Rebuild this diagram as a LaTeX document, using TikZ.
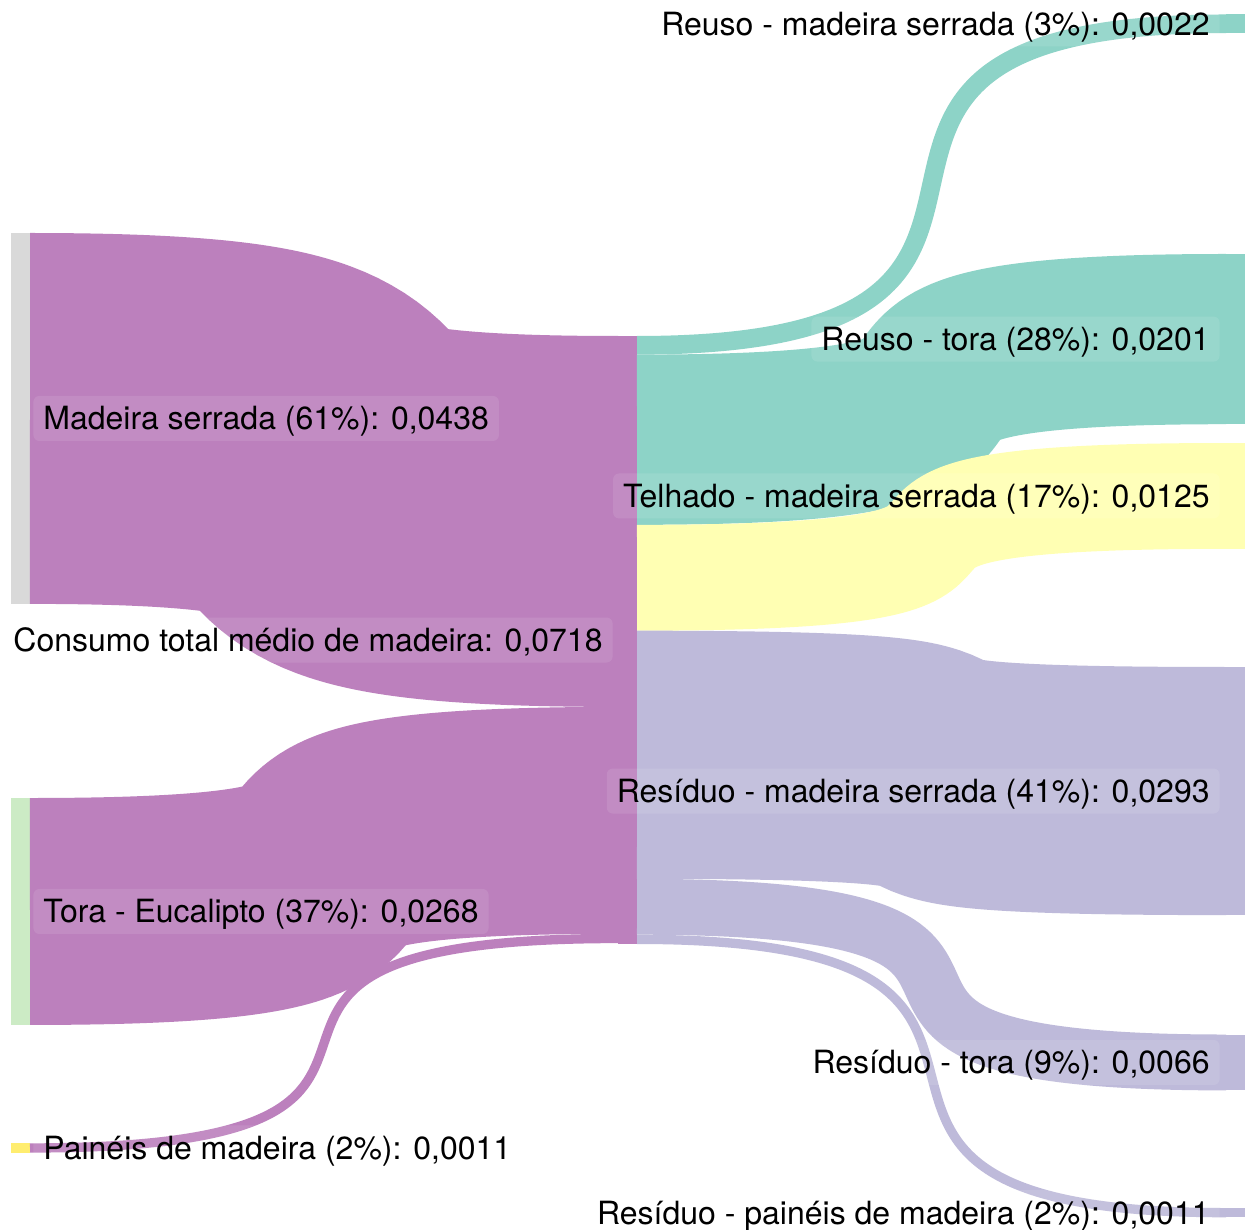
\documentclass[tikz,border=0pt]{standalone}
\usepackage{fontspec}
\setmainfont{TeX Gyre Heros}
% ColorBrewer Set3 colours
\definecolor{cgrey}{HTML}{D9D9D9}
\definecolor{cgreen}{HTML}{CCEBC5}
\definecolor{cgold}{HTML}{FFED6F}
\definecolor{cpurple}{HTML}{BC80BD}
\definecolor{cteal}{HTML}{8DD3C7}
\definecolor{cyellow}{HTML}{FFFFB3}
\definecolor{clav}{HTML}{BEBADA}
\begin{document}
\begin{tikzpicture}[x=0.5pt,y=-0.5pt,
  bar/.style={rectangle, draw=none, inner sep=0pt, outer sep=0pt, minimum width=9.5pt, anchor=north west},
  flowband/.style 2 args={draw=#1, line width=#2*0.5pt},
  lbl/.style={fill=white, fill opacity=0.1, text opacity=1, rounded corners=3pt,
    inner xsep=5pt, inner ysep=4pt, text height=13pt, text depth=1.5pt,
    font=\fontsize{16}{19}\selectfont}]
\useasboundingbox (0,0) rectangle (1245,1229);
\fill[white] (0,0) rectangle (1245,1229);

% control-point reach of every flow band (px)
\def\reachL{517}
\def\reachR{518}

% --- nodes (bars) ---
\node[bar, fill=cgrey,   minimum height=185.45pt] (ms)   at (11,233) {};
\node[bar, fill=cgreen,  minimum height=113.47pt] (te)   at (11,798) {};
\node[bar, fill=cgold,   minimum height=4.655pt]  (pm)   at (11,1143.3) {};
\node[bar, fill=cpurple, minimum height=304pt]    (tot)  at (618,336) {};
\node[bar, fill=cteal,   minimum height=9.315pt]  (rms)  at (1226,14.5) {};
\node[bar, fill=cteal,   minimum height=85.105pt] (rt)   at (1226,254) {};
\node[bar, fill=cyellow, minimum height=52.925pt] (tel)  at (1226,443) {};
\node[bar, fill=clav,    minimum height=124.055pt](rsms) at (1226,667) {};
\node[bar, fill=clav,    minimum height=27.945pt] (rst)  at (1226,1034.5) {};
\node[bar, fill=clav,    minimum height=4.655pt]  (rsp)  at (1226,1208) {};

% --- link end points ---
\coordinate (ms-o)  at (30,418.45);
\coordinate (te-o)  at (30,911.47);
\coordinate (pm-o)  at (30,1147.95);
\coordinate (tot-ims) at (618,521.45);
\coordinate (tot-ite) at (618,820.37);
\coordinate (tot-ipm) at (618,938.5);
\coordinate (tot-o1) at (637,345.31);
\coordinate (tot-o2) at (637,439.73);
\coordinate (tot-o3) at (637,577.76);
\coordinate (tot-o4) at (637,754.74);
\coordinate (tot-o5) at (637,906.74);
\coordinate (tot-o6) at (637,939.34);
\coordinate (rms-i)  at (1226,23.8);
\coordinate (rt-i)   at (1226,339.1);
\coordinate (tel-i)  at (1226,495.93);
\coordinate (rsms-i) at (1226,791.05);
\coordinate (rst-i)  at (1226,1062.45);
\coordinate (rsp-i)  at (1226,1212.65);

% --- links into the total ---
\draw[flowband={cpurple}{370.9}] (ms-o) .. controls +(\reachL,0) and +(-\reachL,0) .. (tot-ims);
\draw[flowband={cpurple}{226.94}] (te-o) .. controls +(\reachL,0) and +(-\reachL,0) .. (tot-ite);
\draw[flowband={cpurple}{9.31}] (pm-o) .. controls +(\reachL,0) and +(-\reachL,0) .. (tot-ipm);

% --- links out of the total ---
\draw[flowband={cteal}{18.63}]   (tot-o1) .. controls +(\reachR,0) and +(-\reachR,0) .. (rms-i);
\draw[flowband={cteal}{170.21}]  (tot-o2) .. controls +(\reachR,0) and +(-\reachR,0) .. (rt-i);
\draw[flowband={cyellow}{105.85}](tot-o3) .. controls +(\reachR,0) and +(-\reachR,0) .. (tel-i);
\draw[flowband={clav}{248.11}]   (tot-o4) .. controls +(\reachR,0) and +(-\reachR,0) .. (rsms-i);
\draw[flowband={clav}{55.89}]    (tot-o5) .. controls +(\reachR,0) and +(-\reachR,0) .. (rst-i);
\draw[flowband={clav}{9.31}]     (tot-o6) .. controls +(\reachR,0) and +(-\reachR,0) .. (rsp-i);

% --- labels ---
\node[lbl, anchor=west] (l-ms) at (33,418.45) {Madeira serrada (61\%): 0,0438};
\node[lbl, anchor=west] (l-te) at (33,911.47) {Tora - Eucalipto (37\%): 0,0268};
\node[lbl, anchor=west] (l-pm) at (33,1147.95) {Painéis de madeira (2\%): 0,0011};
\node[lbl, anchor=east] (l-tot) at (613,640) {Consumo total médio de madeira: 0,0718};
\node[lbl, anchor=east] (l-rms) at (1220,23.8) {Reuso - madeira serrada (3\%): 0,0022};
\node[lbl, anchor=east] (l-rt) at (1220,339.1) {Reuso - tora (28\%): 0,0201};
\node[lbl, anchor=east] (l-tel) at (1220,495.93) {Telhado - madeira serrada (17\%): 0,0125};
\node[lbl, anchor=east] (l-rsms) at (1220,791.05) {Resíduo - madeira serrada (41\%): 0,0293};
\node[lbl, anchor=east] (l-rst) at (1220,1062.45) {Resíduo - tora (9\%): 0,0066};
\node[lbl, anchor=east] (l-rsp) at (1220,1212.65) {Resíduo - painéis de madeira (2\%): 0,0011};
\end{tikzpicture}
\end{document}
